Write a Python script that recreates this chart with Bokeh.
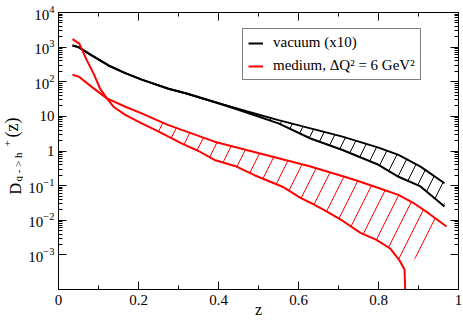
from bokeh.plotting import figure
from bokeh.layouts import row
from bokeh.models import (FixedTicker, LogAxis, LinearAxis, Legend, LegendItem,
                          Label, LogTickFormatter, Range1d)
from bokeh.embed import file_html
from bokeh.resources import INLINE

# ---------------- data ----------------
z_vac = [0.035, 0.05, 0.083, 0.125, 0.167, 0.208, 0.275, 0.32, 0.40, 0.47, 0.55, 0.63,
         0.71, 0.80, 0.85, 0.905, 0.965]
vac_upper = [1120, 1000, 575, 295, 178, 115, 63, 46, 24, 14, 7.8, 4.5,
             2.6, 1.25, 0.77, 0.355, 0.117]
vac_lower = [1120, 1000, 575, 295, 178, 115, 63, 46, 24, 13, 6.3, 2.3,
             1.07, 0.40, 0.18, 0.095, 0.025]

z_med_b = [0.035, 0.052, 0.083, 0.121, 0.167, 0.208, 0.243, 0.275, 0.31, 0.39, 0.47, 0.555,
           0.63, 0.715, 0.745, 0.80, 0.85, 0.89, 0.925, 0.97]
med_b = [160, 138, 71, 33, 19, 12.2, 8.1, 5.6, 4.0, 1.86, 1.07, 0.60,
         0.355, 0.18, 0.14, 0.085, 0.054, 0.030, 0.016, 0.0066]
z_med_a = [0.035, 0.052, 0.071, 0.0875, 0.104, 0.121, 0.1375, 0.167, 0.208, 0.243, 0.275,
           0.31, 0.35, 0.39, 0.445, 0.49, 0.56, 0.605, 0.64, 0.67, 0.71, 0.755, 0.795,
           0.83, 0.853, 0.865, 0.87]
med_a = [1700, 1260, 415, 175, 63, 33, 19, 11, 6.3, 4.0, 2.6,
         1.6, 1.0, 0.55, 0.355, 0.20, 0.093, 0.044, 0.028, 0.018, 0.0097, 0.0043, 0.0027,
         0.0015, 6.8e-4, 3.8e-4, 1e-5]

x_major = [0, 0.2, 0.4, 0.6, 0.8, 1.0]
x_minor = [0.1, 0.3, 0.5, 0.7, 0.9]
y_major = [1e-3, 1e-2, 1e-1, 1, 10, 1e2, 1e3, 1e4]
y_minor = [k * 10.0 ** e for e in range(-3, 4) for k in range(2, 10)]

legend_labels = ["vacuum (x10)", "medium, \u0394Q\u00b2 = 6 GeV\u00b2"]
x_title = "z"
y_title_parts = ["D", "q - > h", "+", "(z)"]

FONT = "Liberation Serif"
YLAB_W = 23

# ---------------- main figure ----------------
p = figure(width=463 - YLAB_W, height=320, output_backend="svg", toolbar_location=None,
           x_range=Range1d(0, 1), y_range=Range1d(1e-4, 1e4), y_axis_type="log",
           min_border_left=58 - YLAB_W, min_border_right=5, min_border_top=12,
           min_border_bottom=30)
p.xgrid.visible = False
p.ygrid.visible = False
p.outline_line_color = "black"
p.background_fill_color = "white"
p.border_fill_color = "white"


def style_axis(ax, show_labels):
    ax.axis_line_color = "black"
    ax.axis_line_width = 1
    ax.major_tick_in = 8
    ax.major_tick_out = 0
    ax.minor_tick_in = 4
    ax.minor_tick_out = 0
    ax.major_tick_line_color = "black"
    ax.minor_tick_line_color = "black"
    ax.major_label_text_font = FONT
    ax.major_label_text_color = "black"
    if show_labels:
        ax.major_label_text_font_size = "15px"
        ax.major_label_standoff = 3
    else:
        ax.major_label_text_font_size = "1px"
        ax.major_label_text_color = None
        ax.major_label_standoff = 0


xticker = FixedTicker(ticks=x_major, minor_ticks=x_minor)
yticker = FixedTicker(ticks=y_major, minor_ticks=y_minor)

xa = p.xaxis[0]
xa.ticker = xticker
xa.major_label_overrides = {0: "0", 1: "1", 0.2: "0.2", 0.4: "0.4", 0.6: "0.6", 0.8: "0.8"}
style_axis(xa, True)
xa.major_label_standoff = 5
xa.axis_label = x_title
xa.axis_label_text_font = FONT
xa.axis_label_text_font_style = "normal"
xa.axis_label_text_font_size = "16px"
xa.axis_label_text_color = "black"
xa.axis_label_standoff = -7

ya = p.yaxis[0]
ya.ticker = yticker
ya.formatter = LogTickFormatter()
ya.major_label_overrides = {1: "1", 10: "10"}
style_axis(ya, True)
ya.major_label_standoff = 4

top = LinearAxis(ticker=xticker)
style_axis(top, False)
p.add_layout(top, "above")
right = LogAxis(ticker=yticker)
style_axis(right, False)
p.add_layout(right, "right")

# ---------------- hatched bands ----------------
vac_px = list(z_vac) + list(reversed(z_vac))
vac_py = list(vac_upper) + list(reversed(vac_lower))
p.patch(vac_px, vac_py, fill_alpha=0, line_alpha=0, hatch_pattern="/",
        hatch_color="black", hatch_scale=24, hatch_weight=1)

zb = [z for z in z_med_b if z >= 0.24]
vb = [v for z, v in zip(z_med_b, med_b) if z >= 0.24]
za = [z for z, v in zip(z_med_a, med_a) if z >= 0.24 and v >= 1e-4]
va = [v for z, v in zip(z_med_a, med_a) if z >= 0.24 and v >= 1e-4]
p.patch(zb + za[::-1], vb + va[::-1], fill_alpha=0, line_alpha=0, hatch_pattern="/",
        hatch_color="red", hatch_scale=32, hatch_weight=1)

# ---------------- curves ----------------
r_vac = p.line(z_vac, vac_upper, line_color="black", line_width=2)
p.line(z_vac, vac_lower, line_color="black", line_width=2)
r_med = p.line(z_med_b, med_b, line_color="red", line_width=2)
p.line(z_med_a, med_a, line_color="red", line_width=2)

legend = Legend(items=[LegendItem(label=legend_labels[0], renderers=[r_vac]),
                       LegendItem(label=legend_labels[1], renderers=[r_med])],
                location=(184, 209))
legend.label_text_font = FONT
legend.label_text_font_size = "15px"
legend.label_text_color = "black"
legend.glyph_width = 15
legend.glyph_height = 14
legend.label_height = 14
legend.label_standoff = 10
legend.spacing = 6
legend.padding = 5
legend.margin = 0
legend.border_line_color = "black"
legend.border_line_width = 1
legend.background_fill_color = "white"
legend.background_fill_alpha = 1
p.add_layout(legend, "center")

# ---------------- y title panel (rotated text with sub/superscript) ----------------
q = figure(title=None, frame_width=YLAB_W, frame_height=320, output_backend="svg",
           toolbar_location=None,
           x_range=Range1d(0, YLAB_W), y_range=Range1d(0, 320),
           x_axis_location=None, y_axis_location=None,
           min_border_left=0, min_border_right=0, min_border_top=0, min_border_bottom=0)
q.outline_line_color = None
q.xgrid.visible = False
q.ygrid.visible = False
q.background_fill_color = "white"
q.border_fill_color = "white"

# text anchor positions inside the title panel
ylab_x = [23, 23, 10.5, 21.5]
ylab_y = [138, 151, 186, 195]
ylab_fs = ["16px", "11px", "11px", "18px"]
for txt, sx, sy, fs in zip(y_title_parts, ylab_x, ylab_y, ylab_fs):
    q.add_layout(Label(x=sx, y=sy, text=txt,
                       angle=90, angle_units="deg", text_font=FONT,
                       text_font_size=fs, text_color="black",
                       text_align="left", text_baseline="bottom"))

layout = row(q, p, spacing=0)
open("out.html", "w").write(file_html(layout, INLINE))
